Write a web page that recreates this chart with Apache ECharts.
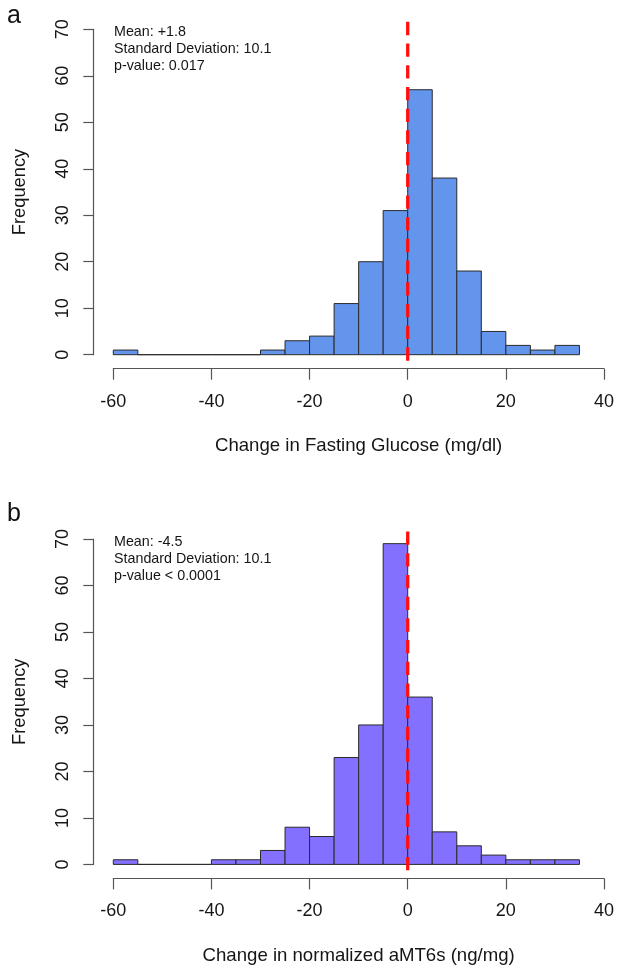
<!DOCTYPE html>
<html><head><meta charset="utf-8">
<script src="https://cdn.jsdelivr.net/npm/echarts@6/dist/echarts.min.js"></script>
<style>html,body{margin:0;padding:0;background:#fff}#chart{width:617px;height:967px}</style>
</head><body><div id="chart"></div>
<script>
// ---- data ----
const binStarts = [-60,-55,-50,-45,-40,-35,-30,-25,-20,-15,-10,-5,0,5,10,15,20,25,30];
const binWidth = 5;
const glucoseCounts = [1,0,0,0,0,0,1,3,4,11,20,31,57,38,18,5,2,1,2];
const amt6sCounts   = [1,0,0,0,1,1,3,8,6,23,30,69,36,7,4,2,1,1,1];
const xTickSpec = {min: -60, max: 40, interval: 20};
const yTickSpec = {min: 0, max: 70, interval: 10};
const refLineX = 0;
const refLineSpan = [71.6, -2.9];
const panelLabels = ['a', 'b'];
const yTitle = 'Frequency';
const xTitles = ['Change in Fasting Glucose (mg/dl)', 'Change in normalized aMT6s (ng/mg)'];
const statsA = ['Mean: +1.8', 'Standard Deviation: 10.1', 'p-value: 0.017'];
const statsB = ['Mean: -4.5', 'Standard Deviation: 10.1', 'p-value < 0.0001'];

// ---- style ----
const FONT = '"Liberation Sans", Arial, Helvetica, sans-serif';
const fillColors = ['#6495ED', '#8470FF'];
const axisColor = '#555555';
const textColor = '#151515';
const gridTops = [29.3, 539];
const gridLeft = 113.3, gridWidth = 491.7, gridHeight = 325.4;

const chart = echarts.init(document.getElementById('chart'), null, {renderer: 'canvas'});

function binData(counts) {
  return binStarts.map((s, i) => [s, s + binWidth, counts[i]]);
}
function makeRender(color) {
  return function (params, api) {
    const p0 = api.coord([api.value(0), 0]);
    const p1 = api.coord([api.value(1), api.value(2)]);
    return {
      type: 'rect',
      shape: {x: p0[0], y: p1[1], width: p1[0] - p0[0], height: p0[1] - p1[1]},
      style: {fill: api.value(2) > 0 ? color : 'none', stroke: '#2a2a2a', lineWidth: 1}
    };
  };
}

const grids = gridTops.map(t => ({left: gridLeft, top: t, width: gridWidth, height: gridHeight, containLabel: false}));
const xAxes = [0, 1].map(i => ({
  type: 'value', gridIndex: i, min: xTickSpec.min, max: xTickSpec.max, interval: xTickSpec.interval,
  offset: 14, position: 'bottom',
  axisLine: {show: true, onZero: false, lineStyle: {color: axisColor, width: 1.2}},
  axisTick: {show: true, length: 11, lineStyle: {color: axisColor, width: 1.2}},
  axisLabel: {fontSize: 18, color: textColor, margin: 24, fontFamily: FONT},
  splitLine: {show: false},
  name: xTitles[i], nameLocation: 'middle', nameGap: 68,
  nameTextStyle: {fontSize: 18.6, color: textColor, fontFamily: FONT}
}));
const yAxes = [0, 1].map(i => ({
  type: 'value', gridIndex: i, min: yTickSpec.min, max: yTickSpec.max, interval: yTickSpec.interval,
  offset: 20, position: 'left',
  axisLine: {show: true, onZero: false, lineStyle: {color: axisColor, width: 1.2}},
  axisTick: {show: true, length: 10, lineStyle: {color: axisColor, width: 1.2}},
  axisLabel: {fontSize: 18, color: textColor, margin: 21, rotate: 90, fontFamily: FONT},
  splitLine: {show: false},
  name: yTitle, nameLocation: 'middle', nameGap: 64, nameRotate: 90,
  nameTextStyle: {fontSize: 18.3, color: textColor, fontFamily: FONT}
}));

const countsList = [glucoseCounts, amt6sCounts];
const series = [];
[0, 1].forEach(i => {
  series.push({
    type: 'custom', xAxisIndex: i, yAxisIndex: i,
    renderItem: makeRender(fillColors[i]),
    data: binData(countsList[i]),
    encode: {x: [0, 1], y: 2},
    z: 2, silent: true
  });
  series.push({
    type: 'line', xAxisIndex: i, yAxisIndex: i, clip: false,
    data: refLineSpan.map(v => [refLineX, v]),
    symbol: 'none', silent: true, z: 5,
    lineStyle: {color: '#ff1010', width: 3.3, type: [13.3, 8.4], cap: 'butt'}
  });
});

const statLineY = [[33.3, 50, 66.7], [543.3, 560, 576.7]];
const graphics = [];
[statsA, statsB].forEach((lines, p) => {
  lines.forEach((txt, k) => {
    graphics.push({type: 'text', left: 114, top: statLineY[p][k] - 8,
      style: {text: txt, font: '14.3px ' + FONT, fill: textColor}});
  });
});
graphics.push({type: 'text', left: 7, top: 4, style: {text: panelLabels[0], font: '25px ' + FONT, fill: '#111'}});
graphics.push({type: 'text', left: 7, top: 502, style: {text: panelLabels[1], font: '25px ' + FONT, fill: '#111'}});

chart.setOption({
  animation: false,
  backgroundColor: '#ffffff',
  grid: grids, xAxis: xAxes, yAxis: yAxes, series: series, graphic: graphics
});
</script></body></html>
